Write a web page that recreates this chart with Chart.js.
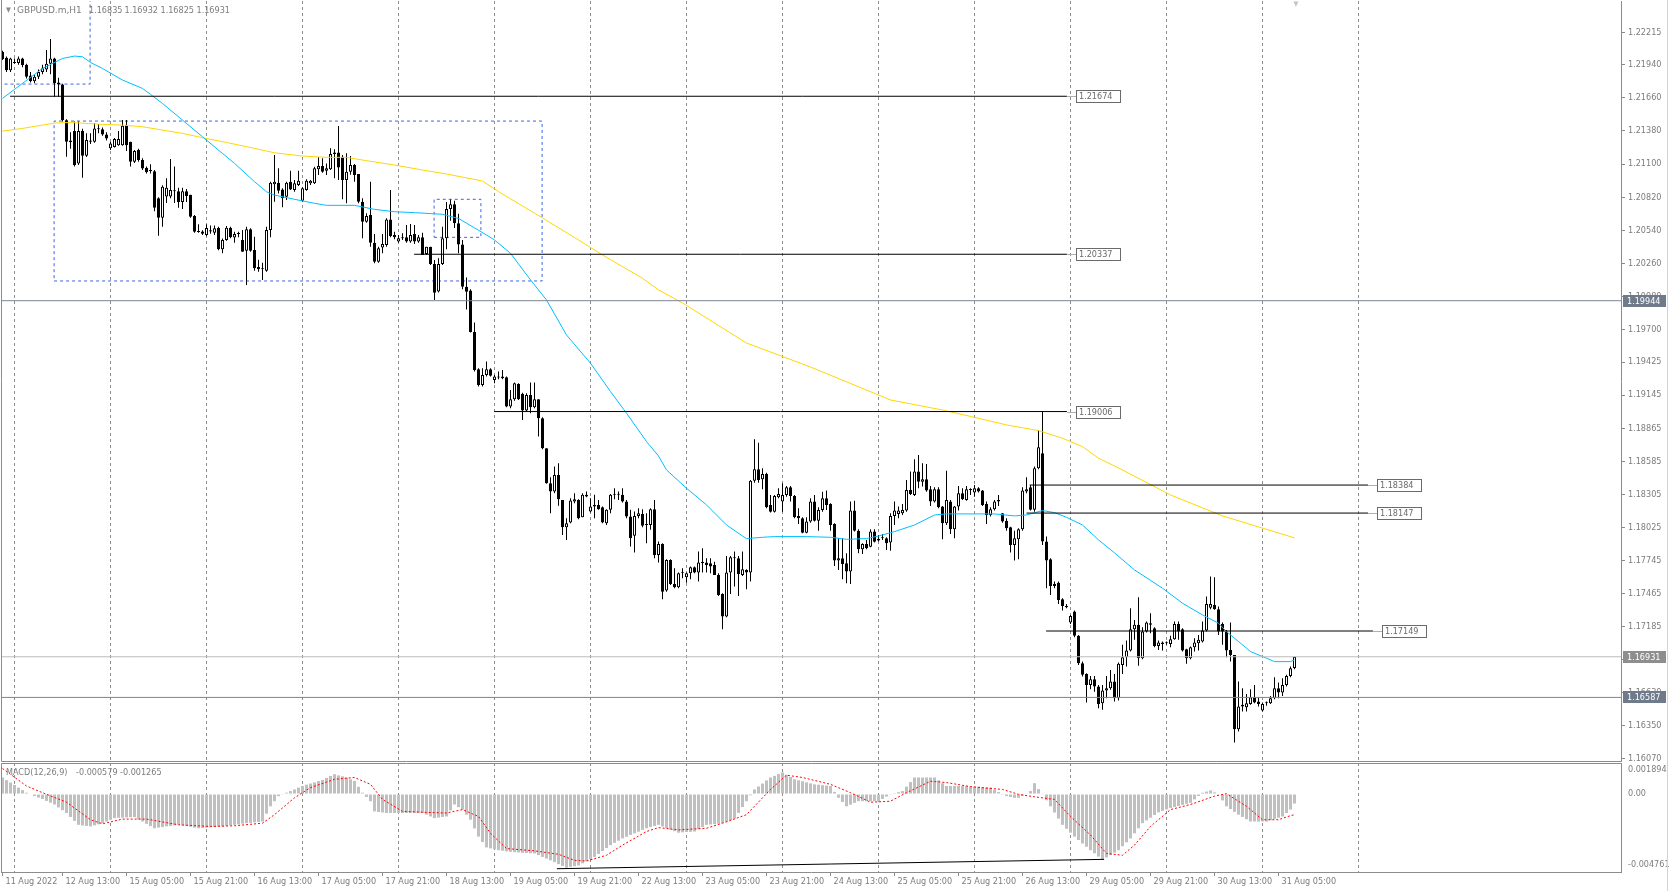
<!DOCTYPE html>
<html><head><meta charset="utf-8">
<script src="https://cdn.jsdelivr.net/npm/chart.js@4.4.1/dist/chart.umd.min.js"></script>
<style>
html,body{margin:0;padding:0;background:#fff;width:1669px;height:891px;overflow:hidden}
canvas{position:absolute;left:0}
#c1{top:0}
#c2{top:762px}
</style></head><body>
<canvas id="c1" width="1669" height="762"></canvas>
<canvas id="c2" width="1669" height="129"></canvas>
<script>
// ---------- DATA ----------
const symbol = 'GBPUSD.m,H1';
const timeLabels = ['11 Aug 2022','12 Aug 13:00','15 Aug 05:00','15 Aug 21:00','16 Aug 13:00','17 Aug 05:00','17 Aug 21:00','18 Aug 13:00','19 Aug 05:00','19 Aug 21:00','22 Aug 13:00','23 Aug 05:00','23 Aug 21:00','24 Aug 13:00','25 Aug 05:00','25 Aug 21:00','26 Aug 13:00','29 Aug 05:00','29 Aug 21:00','30 Aug 13:00','31 Aug 05:00'];
const labelBars = [0,15,31,47,63,79,95,111,127,143,159,175,191,207,223,239,255,271,287,303,319];
const gridBars = [3,27,51,75,99,123,147,171,195,219,243,267,291,315,339];
const priceTicks = [1.22215,1.21940,1.21660,1.21380,1.21100,1.20820,1.20540,1.20260,1.19980,1.19700,1.19425,1.19145,1.18865,1.18585,1.18305,1.18025,1.17745,1.17465,1.17185,1.16905,1.16630,1.16350,1.16070];

const opens = [
1.22050,1.22000,1.21895,1.21960,1.21955,1.21994,1.21940,1.21850,1.21800,1.21840,
1.21880,1.21900,1.21950,1.21994,1.21790,1.21774,1.21470,1.21300,1.21380,1.21106,
1.21380,1.21170,1.21300,1.21290,1.21400,1.21395,1.21350,1.21233,1.21245,1.21260,
1.21260,1.21430,1.21290,1.21120,1.21220,1.21134,1.21070,1.21050,1.21040,1.20810,
1.20646,1.20825,1.20825,1.20876,1.20870,1.20780,1.20870,1.20840,1.20660,1.20530,
1.20530,1.20500,1.20540,1.20520,1.20560,1.20380,1.20458,1.20562,1.20478,1.20508,
1.20458,1.20367,1.20548,1.20373,1.20230,1.20210,1.20198,1.20542,1.20930,1.20943,
1.20886,1.20824,1.20951,1.20880,1.20923,1.20790,1.20880,1.20937,1.20937,1.21056,
1.21084,1.21044,1.21056,1.21185,1.21197,1.21163,1.20965,1.21036,1.21092,1.21016,
1.20782,1.20613,1.20669,1.20435,1.20274,1.20395,1.20415,1.20632,1.20500,1.20444,
1.20472,1.20480,1.20444,1.20508,1.20444,1.20480,1.20339,1.20401,1.20254,1.20021,
1.20255,1.20472,1.20720,1.20760,1.20600,1.20420,1.20063,1.20030,1.19680,1.19364,
1.19231,1.19316,1.19364,1.19274,1.19294,1.19288,1.19296,1.19048,1.19110,1.19240,
1.19155,1.19014,1.19147,1.19042,1.19110,1.18949,1.18696,1.18400,1.18329,1.18470,
1.18258,1.18027,1.18067,1.18244,1.18258,1.18112,1.18301,1.18160,1.18202,1.18216,
1.18196,1.18061,1.18174,1.18301,1.18301,1.18301,1.18244,1.18117,1.17954,1.18123,
1.18140,1.18047,1.18047,1.18180,1.17793,1.17886,1.17491,1.17750,1.17547,1.17519,
1.17637,1.17603,1.17637,1.17688,1.17643,1.17736,1.17728,1.17722,1.17708,1.17623,
1.17462,1.17271,1.17643,1.17764,1.17764,1.17623,1.17666,1.17643,1.18421,1.18517,
1.18433,1.18478,1.18216,1.18159,1.18280,1.18244,1.18300,1.18365,1.18292,1.18123,
1.18103,1.17981,1.18075,1.18244,1.18083,1.18173,1.18272,1.18224,1.18055,1.17745,
1.17764,1.17722,1.17652,1.18168,1.17998,1.17840,1.17886,1.17863,1.17990,1.17930,
1.17934,1.17934,1.17897,1.18123,1.18140,1.18145,1.18168,1.18343,1.18300,1.18498,
1.18413,1.18433,1.18348,1.18244,1.18348,1.18202,1.18061,1.18244,1.18010,1.18202,
1.18314,1.18258,1.18343,1.18320,1.18357,1.18337,1.18224,1.18131,1.18179,1.18244,
1.18145,1.18083,1.18027,1.17877,1.17925,1.18010,1.18329,1.18365,1.18174,1.18526,
1.18653,1.17906,1.17756,1.17530,1.17558,1.17418,1.17361,1.17220,1.17313,1.17108,
1.16876,1.16786,1.16693,1.16741,1.16679,1.16538,1.16645,1.16665,1.16721,1.16580,
1.16862,1.16927,1.16984,1.17164,1.17201,1.16919,1.17144,1.17201,1.17173,1.17023,
1.17040,1.17046,1.17040,1.17080,1.17209,1.17164,1.16995,1.16919,1.17012,1.17046,
1.17060,1.17153,1.17345,1.17370,1.17333,1.17209,1.17144,1.16989,1.16947,1.16318,
1.16510,1.16504,1.16532,1.16589,1.16552,1.16476,1.16538,1.16538,1.16580,1.16665,
1.16628,1.16693,1.16769,1.16835];
const highs = [
1.22060,1.22010,1.22000,1.21994,1.22010,1.22000,1.21950,1.21880,1.21853,1.21900,
1.21940,1.22065,1.22158,1.22000,1.21830,1.21780,1.21480,1.21370,1.21460,1.21460,
1.21400,1.21360,1.21360,1.21445,1.21440,1.21410,1.21370,1.21290,1.21320,1.21380,
1.21472,1.21472,1.21290,1.21220,1.21230,1.21150,1.21080,1.21098,1.21050,1.20820,
1.20920,1.20980,1.21142,1.21080,1.20900,1.20900,1.20890,1.20840,1.20670,1.20590,
1.20540,1.20590,1.20580,1.20580,1.20570,1.20470,1.20576,1.20570,1.20528,1.20528,
1.20542,1.20570,1.20556,1.20486,1.20290,1.20266,1.20570,1.20951,1.21177,1.21064,
1.20895,1.20951,1.21044,1.20965,1.21044,1.20903,1.20971,1.20965,1.21078,1.21157,
1.21149,1.21106,1.21233,1.21225,1.21422,1.21177,1.21191,1.21168,1.21100,1.21016,
1.20810,1.20683,1.20951,1.20508,1.20401,1.20508,1.20641,1.20881,1.20528,1.20500,
1.20514,1.20585,1.20593,1.20585,1.20500,1.20520,1.20401,1.20401,1.20288,1.20303,
1.20570,1.20780,1.20800,1.20790,1.20680,1.20458,1.20140,1.20040,1.19759,1.19372,
1.19372,1.19429,1.19372,1.19316,1.19344,1.19358,1.19302,1.19189,1.19251,1.19245,
1.19166,1.19161,1.19251,1.19251,1.19110,1.18958,1.18696,1.18450,1.18540,1.18569,
1.18258,1.18103,1.18272,1.18315,1.18264,1.18315,1.18329,1.18273,1.18301,1.18258,
1.18202,1.18180,1.18309,1.18357,1.18329,1.18357,1.18258,1.18174,1.18160,1.18188,
1.18180,1.18146,1.18188,1.18258,1.17906,1.17891,1.17756,1.17756,1.17680,1.17643,
1.17680,1.17643,1.17694,1.17694,1.17821,1.17849,1.17764,1.17764,1.17736,1.17637,
1.17468,1.17784,1.17784,1.17821,1.17784,1.17821,1.17671,1.18427,1.18771,1.18743,
1.18526,1.18489,1.18300,1.18300,1.18357,1.18399,1.18376,1.18376,1.18300,1.18187,
1.18111,1.18111,1.18272,1.18300,1.18196,1.18328,1.18337,1.18230,1.18060,1.17934,
1.17934,1.17807,1.18244,1.18252,1.18010,1.17891,1.17919,1.18010,1.18010,1.17962,
1.17970,1.17942,1.18145,1.18244,1.18202,1.18224,1.18427,1.18498,1.18602,1.18639,
1.18568,1.18563,1.18376,1.18365,1.18365,1.18207,1.18506,1.18258,1.18207,1.18376,
1.18357,1.18376,1.18357,1.18385,1.18365,1.18343,1.18244,1.18196,1.18258,1.18300,
1.18145,1.18103,1.18032,1.17998,1.18018,1.18365,1.18450,1.18385,1.18540,1.18845,
1.19006,1.17948,1.17765,1.17567,1.17567,1.17426,1.17378,1.17285,1.17322,1.17116,
1.16890,1.16792,1.16769,1.16769,1.16693,1.16693,1.16769,1.16820,1.16786,1.16882,
1.17032,1.17068,1.17342,1.17243,1.17435,1.17181,1.17229,1.17299,1.17181,1.17068,
1.17060,1.17060,1.17108,1.17229,1.17229,1.17173,1.16999,1.17018,1.17088,1.17116,
1.17229,1.17440,1.17610,1.17604,1.17356,1.17220,1.17158,1.17220,1.16947,1.16721,
1.16665,1.16617,1.16657,1.16693,1.16589,1.16544,1.16552,1.16600,1.16758,1.16713,
1.16750,1.16778,1.16848,1.16932];
const lows = [
1.21980,1.21880,1.21880,1.21950,1.21940,1.21920,1.21825,1.21790,1.21785,1.21820,
1.21860,1.21880,1.21860,1.21670,1.21670,1.21460,1.21162,1.21230,1.21080,1.21092,
1.20985,1.21160,1.21270,1.21280,1.21360,1.21340,1.21300,1.21220,1.21240,1.21255,
1.21255,1.21210,1.21080,1.21110,1.21120,1.21050,1.21020,1.21020,1.20700,1.20494,
1.20570,1.20770,1.20810,1.20770,1.20730,1.20720,1.20780,1.20646,1.20520,1.20520,
1.20500,1.20490,1.20510,1.20500,1.20370,1.20345,1.20452,1.20472,1.20435,1.20480,
1.20359,1.20077,1.20359,1.20198,1.20190,1.20120,1.20190,1.20480,1.20782,1.20852,
1.20734,1.20796,1.20880,1.20866,1.20915,1.20782,1.20875,1.20923,1.20931,1.21007,
1.21027,1.21007,1.21050,1.20980,1.20965,1.20802,1.20768,1.21010,1.20951,1.20768,
1.20472,1.20604,1.20401,1.20260,1.20266,1.20345,1.20401,1.20480,1.20463,1.20435,
1.20458,1.20435,1.20435,1.20423,1.20435,1.20331,1.20331,1.20246,1.19950,1.20013,
1.20246,1.20380,1.20620,1.20560,1.20345,1.20040,1.19870,1.19674,1.19344,1.19217,
1.19217,1.19302,1.19302,1.19245,1.19280,1.19280,1.19042,1.19034,1.19098,1.19104,
1.18935,1.19006,1.18992,1.19034,1.18794,1.18687,1.18394,1.18146,1.18315,1.18208,
1.17962,1.17920,1.18061,1.18230,1.18095,1.18112,1.18281,1.18151,1.18103,1.18174,
1.18061,1.18047,1.18146,1.18264,1.18258,1.18236,1.18103,1.17864,1.17813,1.18103,
1.18027,1.17892,1.18005,1.17765,1.17728,1.17418,1.17482,1.17539,1.17511,1.17511,
1.17595,1.17558,1.17587,1.17637,1.17567,1.17643,1.17643,1.17637,1.17623,1.17446,
1.17164,1.17265,1.17462,1.17525,1.17446,1.17615,1.17502,1.17567,1.18404,1.18404,
1.18348,1.18187,1.18151,1.18151,1.18272,1.18159,1.18286,1.18244,1.18103,1.18055,
1.17976,1.17976,1.18066,1.18075,1.17998,1.18159,1.18173,1.17998,1.17700,1.17666,
1.17587,1.17553,1.17547,1.17990,1.17807,1.17801,1.17840,1.17857,1.17897,1.17906,
1.17920,1.17835,1.17829,1.18046,1.18103,1.18131,1.18159,1.18300,1.18292,1.18357,
1.18371,1.18328,1.18207,1.18236,1.18187,1.17925,1.18047,1.17970,1.17934,1.18168,
1.18258,1.18252,1.18300,1.18286,1.18320,1.18207,1.18055,1.18117,1.18168,1.18207,
1.18066,1.17998,1.17813,1.17745,1.17756,1.17998,1.18314,1.18168,1.18159,1.18517,
1.17877,1.17511,1.17454,1.17511,1.17378,1.17322,1.17342,1.17209,1.17096,1.16862,
1.16764,1.16543,1.16656,1.16636,1.16496,1.16482,1.16580,1.16651,1.16552,1.16561,
1.16786,1.16848,1.16975,1.17074,1.16854,1.16910,1.17136,1.17130,1.17012,1.16989,
1.16984,1.17032,1.17012,1.17074,1.17074,1.16975,1.16871,1.16910,1.16975,1.16984,
1.17051,1.17144,1.17333,1.17328,1.17116,1.17032,1.16927,1.16891,1.16205,1.16298,
1.16468,1.16468,1.16524,1.16538,1.16510,1.16468,1.16516,1.16532,1.16572,1.16580,
1.16600,1.16679,1.16758,1.16825];
const closes = [
1.21990,1.21895,1.21994,1.21955,1.21994,1.21938,1.21840,1.21800,1.21840,1.21880,
1.21910,1.21950,1.21994,1.21783,1.21774,1.21472,1.21289,1.21285,1.21092,1.21380,
1.21170,1.21303,1.21290,1.21402,1.21395,1.21350,1.21317,1.21275,1.21312,1.21312,
1.21425,1.21260,1.21120,1.21210,1.21134,1.21063,1.21030,1.21040,1.20730,1.20646,
1.20908,1.20900,1.20880,1.20870,1.20780,1.20870,1.20830,1.20655,1.20528,1.20525,
1.20510,1.20560,1.20530,1.20556,1.20380,1.20457,1.20562,1.20480,1.20508,1.20508,
1.20359,1.20548,1.20367,1.20218,1.20210,1.20218,1.20542,1.20943,1.20951,1.20875,
1.20810,1.20943,1.20886,1.20937,1.20960,1.20895,1.20960,1.20960,1.21064,1.21084,
1.21036,1.21064,1.21185,1.21197,1.21072,1.20965,1.21036,1.21092,1.21007,1.20782,
1.20613,1.20660,1.20435,1.20274,1.20387,1.20423,1.20632,1.20491,1.20480,1.20472,
1.20472,1.20444,1.20500,1.20444,1.20480,1.20331,1.20401,1.20254,1.20012,1.20255,
1.20472,1.20720,1.20760,1.20600,1.20420,1.20063,1.20020,1.19680,1.19358,1.19231,
1.19316,1.19364,1.19308,1.19302,1.19294,1.19302,1.19048,1.19110,1.19245,1.19110,
1.19014,1.19147,1.19042,1.19110,1.18949,1.18696,1.18400,1.18329,1.18470,1.18264,
1.18027,1.18061,1.18253,1.18264,1.18103,1.18301,1.18287,1.18202,1.18216,1.18180,
1.18067,1.18174,1.18301,1.18301,1.18301,1.18244,1.18117,1.17934,1.18123,1.18146,
1.18039,1.18047,1.18180,1.17793,1.17886,1.17482,1.17750,1.17547,1.17519,1.17637,
1.17637,1.17637,1.17688,1.17643,1.17728,1.17722,1.17708,1.17694,1.17623,1.17454,
1.17271,1.17643,1.17773,1.17773,1.17632,1.17671,1.17643,1.18421,1.18517,1.18427,
1.18478,1.18196,1.18159,1.18292,1.18309,1.18300,1.18365,1.18292,1.18111,1.18103,
1.17981,1.18075,1.18244,1.18083,1.18173,1.18272,1.18216,1.18046,1.17745,1.17764,
1.17716,1.17652,1.18168,1.17998,1.17840,1.17886,1.17849,1.17990,1.17905,1.17914,
1.17934,1.17891,1.18123,1.18168,1.18168,1.18173,1.18343,1.18309,1.18498,1.18413,
1.18433,1.18337,1.18244,1.18348,1.18196,1.18061,1.18258,1.18010,1.18202,1.18314,
1.18264,1.18348,1.18343,1.18357,1.18329,1.18216,1.18131,1.18179,1.18244,1.18258,
1.18075,1.18018,1.17877,1.17934,1.18010,1.18337,1.18348,1.18174,1.18526,1.18704,
1.17906,1.17745,1.17530,1.17547,1.17412,1.17361,1.17350,1.17277,1.17108,1.16876,
1.16778,1.16693,1.16741,1.16679,1.16532,1.16645,1.16665,1.16721,1.16580,1.16871,
1.16927,1.16984,1.17164,1.17201,1.16919,1.17144,1.17220,1.17215,1.17023,1.17051,
1.17051,1.17046,1.17080,1.17209,1.17144,1.16984,1.16919,1.17012,1.17051,1.17074,
1.17153,1.17378,1.17378,1.17333,1.17144,1.17144,1.16984,1.16947,1.16318,1.16510,
1.16524,1.16538,1.16589,1.16544,1.16532,1.16532,1.16538,1.16580,1.16665,1.16628,
1.16693,1.16769,1.16834,1.16931];

// moving averages (bar index, value)
const blueBars = [0,5,10,15,18,20,22,25,30,35,37,40,45,50,55,58,63,66,68,73,78,81,88,93,98,103,110,114,118,121,123,127,132,136,141,147,152,156,161,164,166,171,176,181,185,186,190,193,201,207,211,216,219,223,228,233,236,243,248,253,256,260,263,266,270,274,278,283,290,295,300,304,306,309,312,316,318,322,323];
const blueVals = [1.21656,1.21783,1.21909,1.21994,1.22014,1.22008,1.21960,1.21909,1.21811,1.21740,1.21690,1.21613,1.21472,1.21331,1.21190,1.21106,1.20951,1.20866,1.20838,1.20802,1.20768,1.20751,1.20751,1.20717,1.20697,1.20689,1.20675,1.20640,1.20560,1.20500,1.20458,1.20345,1.20120,1.19950,1.19654,1.19415,1.19175,1.18992,1.18752,1.18630,1.18512,1.18357,1.18216,1.18046,1.17953,1.17931,1.17942,1.17948,1.17948,1.17942,1.17925,1.17931,1.17953,1.17990,1.18046,1.18131,1.18140,1.18140,1.18140,1.18123,1.18131,1.18168,1.18151,1.18111,1.18046,1.17920,1.17810,1.17666,1.17511,1.17384,1.17285,1.17215,1.17144,1.17060,1.16975,1.16919,1.16890,1.16890,1.16905];
const goldBars = [0,5,10,13,17,25,30,35,40,45,50,56,63,68,75,81,86,91,98,105,111,120,124,135,144,150,155,160,164,170,186,202,222,235,243,251,259,265,270,274,279,292,305,323];
const goldVals = [1.21379,1.21402,1.21430,1.21447,1.21452,1.21436,1.21430,1.21416,1.21388,1.21360,1.21323,1.21283,1.21233,1.21196,1.21168,1.21157,1.21157,1.21129,1.21092,1.21050,1.21016,1.20957,1.20867,1.20644,1.20458,1.20331,1.20232,1.20134,1.20035,1.19925,1.19586,1.19383,1.19104,1.19019,1.18957,1.18893,1.18845,1.18780,1.18709,1.18611,1.18529,1.18300,1.18123,1.17937];

// drawn levels (price, start bar, end bar)
const levelPrices = [1.21674,1.20337,1.19006,1.18384,1.18147,1.17149];
const levelStart = [1.9,102.9,122.9,256.8,256.0,260.9];
const levelEnd = [266.1,266.1,266.1,341.4,341.4,342.6];
const fullLines = [1.19944,1.16931,1.16587];
// dashed rectangles (bar range, price range)
const rectBars = [[-1,21.9],[12.9,134.9],[107.9,119.6]];
const rectPrices = [[1.21777,1.23000],[1.20111,1.21464],[1.20480,1.20802]];

// MACD(12,26,9)
const macdHist = [
0.00101,0.00085,0.00070,0.00055,0.00039,0.00024,0.00008,-0.00003,-0.00013,-0.00022,
-0.00030,-0.00042,-0.00053,-0.00064,-0.00082,-0.00099,-0.00116,-0.00140,-0.00164,-0.00188,
-0.00192,-0.00195,-0.00198,-0.00191,-0.00185,-0.00178,-0.00168,-0.00157,-0.00147,-0.00145,
-0.00144,-0.00143,-0.00142,-0.00141,-0.00155,-0.00168,-0.00182,-0.00196,-0.00209,-0.00205,
-0.00202,-0.00198,-0.00195,-0.00191,-0.00188,-0.00192,-0.00196,-0.00200,-0.00205,-0.00209,
-0.00207,-0.00205,-0.00203,-0.00201,-0.00199,-0.00198,-0.00195,-0.00191,-0.00188,-0.00185,
-0.00181,-0.00178,-0.00176,-0.00173,-0.00171,-0.00168,-0.00120,-0.00075,-0.00044,-0.00013,
-0.00002,0.00008,0.00018,0.00028,0.00039,0.00049,0.00057,0.00064,0.00071,0.00079,
0.00086,0.00098,0.00110,0.00121,0.00114,0.00108,0.00101,0.00090,0.00080,0.00044,
0.00008,-0.00018,-0.00044,-0.00106,-0.00110,-0.00113,-0.00116,-0.00116,-0.00116,-0.00116,
-0.00116,-0.00116,-0.00116,-0.00116,-0.00116,-0.00116,-0.00126,-0.00137,-0.00147,-0.00144,
-0.00140,-0.00137,-0.00100,-0.00064,-0.00080,-0.00095,-0.00126,-0.00157,-0.00210,-0.00260,
-0.00293,-0.00326,-0.00332,-0.00337,-0.00343,-0.00346,-0.00350,-0.00353,-0.00355,-0.00357,
-0.00359,-0.00360,-0.00362,-0.00363,-0.00373,-0.00384,-0.00394,-0.00405,-0.00416,-0.00428,
-0.00439,-0.00450,-0.00445,-0.00441,-0.00436,-0.00423,-0.00410,-0.00397,-0.00384,-0.00366,
-0.00348,-0.00330,-0.00312,-0.00298,-0.00285,-0.00271,-0.00261,-0.00250,-0.00240,-0.00230,
-0.00219,-0.00209,-0.00202,-0.00195,-0.00188,-0.00198,-0.00208,-0.00217,-0.00227,-0.00236,
-0.00234,-0.00232,-0.00231,-0.00229,-0.00215,-0.00202,-0.00188,-0.00186,-0.00183,-0.00181,
-0.00178,-0.00169,-0.00159,-0.00150,-0.00115,-0.00079,-0.00044,-0.00008,0.00028,0.00046,
0.00064,0.00083,0.00101,0.00111,0.00122,0.00132,0.00118,0.00104,0.00090,0.00084,
0.00078,0.00071,0.00065,0.00059,0.00057,0.00054,0.00052,0.00049,0.00013,-0.00023,
-0.00049,-0.00075,-0.00065,-0.00054,-0.00044,-0.00044,-0.00044,-0.00044,-0.00044,-0.00044,
-0.00030,-0.00016,-0.00002,0.00005,0.00011,0.00018,0.00045,0.00073,0.00101,0.00101,
0.00101,0.00101,0.00101,0.00101,0.00084,0.00066,0.00049,0.00049,0.00049,0.00049,
0.00049,0.00049,0.00047,0.00046,0.00044,0.00042,0.00040,0.00039,0.00026,0.00012,
-0.00001,-0.00013,-0.00018,-0.00023,-0.00023,-0.00010,0.00004,0.00018,0.00066,0.00030,
-0.00002,-0.00038,-0.00075,-0.00113,-0.00150,-0.00188,-0.00212,-0.00236,-0.00260,-0.00281,
-0.00302,-0.00322,-0.00343,-0.00362,-0.00382,-0.00401,-0.00387,-0.00372,-0.00358,-0.00343,
-0.00319,-0.00295,-0.00271,-0.00240,-0.00209,-0.00178,-0.00161,-0.00145,-0.00128,-0.00112,
-0.00103,-0.00094,-0.00085,-0.00079,-0.00073,-0.00066,-0.00060,-0.00054,-0.00033,-0.00012,
0.00008,0.00015,0.00022,0.00010,-0.00002,-0.00039,-0.00075,-0.00092,-0.00109,-0.00126,
-0.00140,-0.00154,-0.00168,-0.00168,-0.00168,-0.00168,-0.00168,-0.00160,-0.00152,-0.00145,
-0.00137,-0.00116,-0.00095,-0.000579];
const sigBars = [0,6,10,16,22,25,30,36,44,52,58,65,68,73,77,83,88,92,95,100,106,111,115,119,122,126,133,139,143,146,151,155,161,164,169,176,180,186,192,196,200,207,212,217,222,226,232,236,242,250,254,258,263,267,272,276,280,283,287,292,297,303,306,311,315,319,322,323];
const sigVals = [0.00156,0.00049,0.00008,-0.00050,-0.00157,-0.00182,-0.00153,-0.00153,-0.00188,-0.00198,-0.00194,-0.00178,-0.00126,-0.00023,0.00039,0.00090,0.00101,0.00059,-0.00033,-0.00106,-0.00112,-0.00116,-0.00095,-0.00137,-0.00240,-0.00333,-0.00347,-0.00368,-0.00405,-0.00409,-0.00374,-0.00312,-0.00229,-0.00205,-0.00219,-0.00209,-0.00178,-0.00126,0.00028,0.00115,0.00101,0.00059,0.00008,-0.00050,-0.00044,0.00008,0.00078,0.00070,0.00045,0.00028,-0.00002,-0.00017,-0.00033,-0.00137,-0.00250,-0.00363,-0.00374,-0.00312,-0.00198,-0.00095,-0.00064,-0.00013,0.00002,-0.00075,-0.00157,-0.00157,-0.00132,-0.001265];
const trendBars = [138.6,275.4];
const trendVals = [-0.00456,-0.00399];
const macdRange = [-0.004761,0.001894];
const macdTickPos = [0.001466,0,-0.004333];
const macdTickLabels = ['0.001894','0.00','-0.004761'];

// ---------- STYLE / LAYOUT ----------
const FONT = "'DejaVu Sans Condensed','Liberation Sans',sans-serif";
const FONT_WIDE = "'DejaVu Sans','Liberation Sans',sans-serif";
const TXT = '#7c7c7c';
const FRAME = '#8c8c8c';
const XMIN = -0.375, XMAX = 404.625;
const YMIN = 1.16049, YMAX = 1.22480;
const fullLineColors = ['#7a8594','#bcbcbc','#7a8594'];
const fullBoxColors = ['#6f7b8b','#8e8e8e','#6f7b8b'];
const headerValueX = [89, 124.5, 160.5, 196.5];
const macdTextX = [6, 76, 120];
Chart.defaults.font.family = FONT;

const N = closes.length;
const idx = closes.map((_, i) => i);
const pts = (xs, ys) => xs.map((x, i) => ({x, y: ys[i]}));
const noPad = s => { s.paddingTop = 0; s.paddingBottom = 0; };

const lineDs = (data, color, order, extra) => Object.assign({type:'line', data, borderColor:color, borderWidth:1, pointRadius:0, fill:false, tension:0, order}, extra || {});

const ds1 = [];
levelPrices.forEach((p, i) => ds1.push(lineDs([{x:levelStart[i], y:p},{x:levelEnd[i], y:p}], '#000', 1)));
fullLines.forEach((p, i) => ds1.push(lineDs([{x:XMIN, y:p},{x:XMAX, y:p}], fullLineColors[i], 2)));
ds1.push(lineDs(pts(blueBars, blueVals), '#00bfff', 3));
ds1.push(lineDs(pts(goldBars, goldVals), '#ffd700', 4));
ds1.push({type:'bar', order:5, grouped:false, maxBarThickness:3, barPercentage:1, categoryPercentage:1, inflateAmount:0, minBarLength:1,
  data: idx.map(i => ({x:i, y:[opens[i], closes[i]]})),
  backgroundColor: c => closes[c.dataIndex] >= opens[c.dataIndex] ? '#ffffff' : '#000000',
  borderColor:'#000', borderWidth:1, borderSkipped:false});
ds1.push({type:'bar', order:6, grouped:false, maxBarThickness:1, barPercentage:1, categoryPercentage:1, inflateAmount:0,
  data: idx.map(i => ({x:i, y:[lows[i], highs[i]]})), backgroundColor:'#000', borderWidth:0});
rectBars.forEach((b, i) => {
  const p = rectPrices[i];
  ds1.push(lineDs([{x:b[0],y:p[0]},{x:b[1],y:p[0]},{x:b[1],y:p[1]},{x:b[0],y:p[1]},{x:b[0],y:p[0]}], '#3d63e6', 7, {borderDash:[3,3]}));
});

const fmt = v => v.toFixed(5);

const edgeLine = (ctx, h) => {
  ctx.strokeStyle = '#d4d4d4'; ctx.beginPath(); ctx.moveTo(1667.5, 0); ctx.lineTo(1667.5, h); ctx.stroke();
};

const overlay1 = {
  id:'overlay1',
  afterDraw(chart){
    const {ctx, chartArea:a, scales:{x, y}} = chart;
    ctx.save();
    ctx.strokeStyle = FRAME; ctx.lineWidth = 1;
    ctx.beginPath(); ctx.moveTo(a.left + 0.5, 0); ctx.lineTo(a.left + 0.5, a.bottom + 0.5); ctx.lineTo(a.right, a.bottom + 0.5); ctx.stroke();
    edgeLine(ctx, chart.height);
    ctx.font = '9px ' + FONT; ctx.textBaseline = 'middle'; ctx.textAlign = 'left';
    levelPrices.forEach((p, i) => {
      const xe = Math.round(x.getPixelForValue(levelEnd[i]));
      const yy = Math.round(y.getPixelForValue(p)) + 0.5;
      ctx.strokeStyle = '#b0b0b0';
      ctx.beginPath(); ctx.moveTo(xe, yy); ctx.lineTo(xe + 9, yy); ctx.stroke();
      ctx.fillStyle = '#fff'; ctx.fillRect(xe + 9.5, yy - 6, 44, 12);
      ctx.strokeStyle = '#6a6a6a'; ctx.strokeRect(xe + 9.5, yy - 6, 44, 12);
      ctx.fillStyle = '#6a6a6a'; ctx.fillText(fmt(p), xe + 12, yy + 0.5);
    });
    fullLines.forEach((p, i) => {
      const yy = Math.round(y.getPixelForValue(p));
      ctx.fillStyle = fullBoxColors[i]; ctx.fillRect(a.right + 2, yy - 6, 43, 12);
      ctx.fillStyle = '#ffffff'; ctx.fillText(fmt(p), a.right + 6, yy + 0.5);
    });
    ctx.fillStyle = '#8a8a8a'; ctx.font = '7px ' + FONT;
    ctx.fillText('\u25BC', 6, 10);
    ctx.fillStyle = '#c4c4c4';
    ctx.fillText('\u25BC', x.getPixelForValue(N - 1) - 1, 4);
    ctx.fillStyle = TXT; ctx.font = '9px ' + FONT_WIDE;
    const L = N - 1;
    ctx.fillText(symbol, 17, 10.5);
    ctx.font = '9px ' + FONT;
    [opens[L], highs[L], lows[L], closes[L]].forEach((v, i) => ctx.fillText(fmt(v), headerValueX[i], 10.5));
    ctx.restore();
  }
};

new Chart(document.getElementById('c1'), {
  type:'bar',
  data:{datasets:ds1},
  options:{
    responsive:false, animation:false, devicePixelRatio:1,
    layout:{padding:{left:1, top:1, bottom:1, right:0}},
    plugins:{legend:{display:false}, tooltip:{enabled:false}},
    scales:{
      x:{type:'linear', min:XMIN, max:XMAX, offset:false,
        afterBuildTicks: s => { s.ticks = gridBars.map(v => ({value:v})); },
        afterFit: s => { s.height = 0; s.paddingLeft = 0; s.paddingRight = 0; },
        ticks:{display:false}, grid:{color:'#8c8c8c', drawTicks:false, lineWidth:1, offset:false},
        border:{display:false, dash:[3,3]}},
      y:{position:'right', min:YMIN, max:YMAX,
        afterBuildTicks: s => { s.ticks = priceTicks.map(v => ({value:v})); },
        afterFit: s => { s.width = 48; noPad(s); },
        ticks:{autoSkip:false, color:TXT, font:{family:FONT, size:9}, padding:3, callback: v => fmt(v)},
        grid:{drawOnChartArea:false, drawTicks:true, tickLength:4, tickColor:FRAME, offset:false},
        border:{display:true, color:FRAME}}
    }
  },
  plugins:[overlay1]
});

// ---------- MACD panel ----------
const overlay2 = {
  id:'overlay2',
  afterDraw(chart){
    const {ctx, chartArea:a} = chart;
    ctx.save();
    ctx.strokeStyle = FRAME; ctx.lineWidth = 1;
    ctx.beginPath(); ctx.moveTo(a.left + 0.5, a.bottom); ctx.lineTo(a.left + 0.5, a.top + 0.5); ctx.lineTo(a.right, a.top + 0.5); ctx.stroke();
    edgeLine(ctx, chart.height);
    ctx.fillStyle = TXT; ctx.font = '9px ' + FONT; ctx.textBaseline = 'middle'; ctx.textAlign = 'left';
    const parts = ['MACD(12,26,9)', macdHist[N - 1].toFixed(6), sigVals[sigVals.length - 1].toFixed(6)];
    parts.forEach((t, i) => ctx.fillText(t, macdTextX[i], 10.5));
    ctx.restore();
  }
};

new Chart(document.getElementById('c2'), {
  type:'bar',
  data:{datasets:[
    lineDs(pts(trendBars, trendVals), '#000', 1),
    lineDs(pts(sigBars, sigVals), '#ff0000', 2, {borderDash:[2,2]}),
    {type:'bar', order:3, grouped:false, maxBarThickness:3, barPercentage:1, categoryPercentage:1, inflateAmount:0,
      data: idx.map(i => ({x:i, y:macdHist[i]})), backgroundColor:'#c0c0c0', borderWidth:0}
  ]},
  options:{
    responsive:false, animation:false, devicePixelRatio:1,
    layout:{padding:{left:1, top:1, bottom:0, right:0}},
    plugins:{legend:{display:false}, tooltip:{enabled:false}},
    scales:{
      x:{type:'linear', min:XMIN, max:XMAX, offset:false, position:'bottom',
        afterBuildTicks: s => { s.ticks = labelBars.map(v => ({value:v})); },
        afterFit: s => { s.height = 19; s.paddingLeft = 0; s.paddingRight = 0; },
        ticks:{autoSkip:false, maxRotation:0, minRotation:0, align:'start', labelOffset:3, padding:0, color:TXT, font:{family:FONT, size:9},
          callback: (v, i) => timeLabels[i]},
        grid:{drawOnChartArea:false, drawTicks:true, tickLength:4, tickColor:FRAME, offset:false},
        border:{display:true, color:FRAME}},
      xg:{type:'linear', min:XMIN, max:XMAX, offset:false, position:'bottom',
        afterBuildTicks: s => { s.ticks = gridBars.map(v => ({value:v})); },
        afterFit: s => { s.height = 0; s.paddingLeft = 0; s.paddingRight = 0; },
        ticks:{display:false}, grid:{color:'#8c8c8c', drawTicks:false, offset:false},
        border:{display:false, dash:[3,3]}},
      y:{position:'right', min:macdRange[0], max:macdRange[1],
        afterBuildTicks: s => { s.ticks = macdTickPos.map(v => ({value:v})); },
        afterFit: s => { s.width = 48; noPad(s); },
        ticks:{autoSkip:false, color:TXT, font:{family:FONT, size:9}, padding:3, callback: (v, i) => macdTickLabels[i]},
        grid:{drawOnChartArea:false, drawTicks:true, tickLength:4, tickColor:'rgba(0,0,0,0)', offset:false},
        border:{display:true, color:FRAME}}
    }
  },
  plugins:[overlay2]
});
</script>
</body></html>
